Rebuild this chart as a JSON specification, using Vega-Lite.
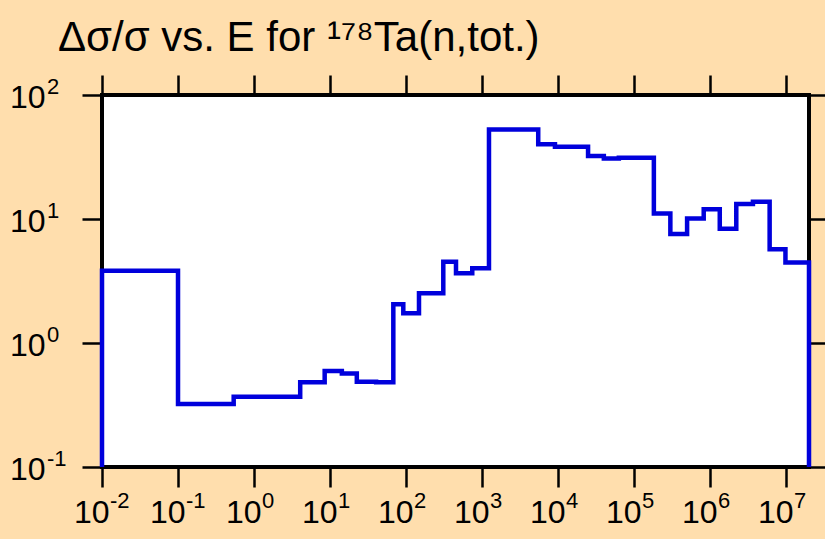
{
  "$schema": "https://vega.github.io/schema/vega-lite/v6.json",
  "width": 707,
  "height": 372,
  "autosize": "none",
  "padding": {"left": 102, "top": 95, "right": 16, "bottom": 72},
  "background": "#FFDEAD",
  "config": {
    "font": "Liberation Sans",
    "view": {"fill": "white", "stroke": "black", "strokeWidth": 4}
  },
  "title": {
    "text": "Δσ/σ vs. E for ¹⁷⁸Ta(n,tot.)",
    "anchor": "start",
    "frame": "group",
    "font": "Liberation Sans",
    "fontSize": 42,
    "fontWeight": "normal",
    "color": "black",
    "baseline": "alphabetic",
    "dx": -44,
    "offset": -19
  },
  "datasets": {
    "steps": [
      {"i": 0, "E": 0.01, "v": 0.1},
      {"i": 1, "E": 0.01, "v": 3.83},
      {"i": 2, "E": 0.1, "v": 0.322},
      {"i": 3, "E": 0.54, "v": 0.369},
      {"i": 4, "E": 4.05, "v": 0.482},
      {"i": 5, "E": 8.5, "v": 0.594},
      {"i": 6, "E": 14.3, "v": 0.567},
      {"i": 7, "E": 22.5, "v": 0.488},
      {"i": 8, "E": 40.4, "v": 0.482},
      {"i": 9, "E": 68, "v": 2.05},
      {"i": 10, "E": 92, "v": 1.74},
      {"i": 11, "E": 148, "v": 2.52},
      {"i": 12, "E": 309, "v": 4.53},
      {"i": 13, "E": 454, "v": 3.65},
      {"i": 14, "E": 743, "v": 4.0},
      {"i": 15, "E": 1233, "v": 52.8},
      {"i": 16, "E": 5480, "v": 40.0},
      {"i": 17, "E": 9100, "v": 38.3},
      {"i": 18, "E": 24800, "v": 32.2},
      {"i": 19, "E": 40000, "v": 30.8},
      {"i": 20, "E": 63000, "v": 31.2},
      {"i": 21, "E": 182000, "v": 11.1},
      {"i": 22, "E": 300000, "v": 7.57},
      {"i": 23, "E": 498000, "v": 10.1},
      {"i": 24, "E": 824000, "v": 12.0},
      {"i": 25, "E": 1340000, "v": 8.36},
      {"i": 26, "E": 2210000, "v": 13.2},
      {"i": 27, "E": 3660000, "v": 13.8},
      {"i": 28, "E": 6070000, "v": 5.7},
      {"i": 29, "E": 9800000, "v": 4.45},
      {"i": 30, "E": 20000000, "v": 4.45},
      {"i": 31, "E": 20000000, "v": 0.1}
    ],
    "xticks": [
      {"E": 0.01, "e": "-2"},
      {"E": 0.1, "e": "-1"},
      {"E": 1, "e": "0"},
      {"E": 10, "e": "1"},
      {"E": 100, "e": "2"},
      {"E": 1000, "e": "3"},
      {"E": 10000, "e": "4"},
      {"E": 100000, "e": "5"},
      {"E": 1000000, "e": "6"},
      {"E": 10000000, "e": "7"}
    ],
    "yticks": [
      {"v": 100, "e": "2"},
      {"v": 10, "e": "1"},
      {"v": 1, "e": "0"},
      {"v": 0.1, "e": "-1"}
    ]
  },
  "layer": [
    {
      "data": {"name": "steps"},
      "mark": {"type": "line", "interpolate": "step-after", "color": "#0000DC", "strokeWidth": 4.5, "strokeCap": "butt", "strokeJoin": "miter"},
      "encoding": {
        "x": {
          "field": "E", "type": "quantitative",
          "scale": {"type": "log", "domain": [0.01, 20000000], "nice": false},
          "axis": {
            "orient": "bottom", "title": null, "grid": false, "domain": false,
            "values": [0.01, 0.1, 1, 10, 100, 1000, 10000, 100000, 1000000, 10000000],
            "labelExpr": "'10'", "labelAlign": "right", "labelBaseline": "alphabetic",
            "labelPadding": 35, "labelOffset": 7, "labelFontSize": 32, "labelColor": "black", "labelFont": "Liberation Sans",
            "labelOverlap": false, "labelFlush": false, "labelBound": false,
            "tickSize": 20, "tickWidth": 2.5, "tickColor": "black"
          }
        },
        "y": {
          "field": "v", "type": "quantitative",
          "scale": {"type": "log", "domain": [0.1, 100], "nice": false},
          "axis": {
            "orient": "left", "title": null, "grid": false, "domain": false,
            "values": [0.1, 1, 10, 100],
            "labelExpr": "'10'", "labelAlign": "right", "labelBaseline": "alphabetic",
            "labelPadding": 37, "labelOffset": 12, "labelFontSize": 32, "labelColor": "black", "labelFont": "Liberation Sans",
            "labelOverlap": false, "labelFlush": false, "labelBound": false,
            "tickSize": 20, "tickWidth": 2.5, "tickColor": "black"
          }
        },
        "order": {"field": "i", "type": "quantitative"}
      }
    },
    {
      "data": {"name": "xticks"},
      "mark": {"type": "text", "align": "left", "baseline": "alphabetic", "fontSize": 22, "dx": 8, "dy": 41, "color": "black", "font": "Liberation Sans"},
      "encoding": {
        "x": {
          "field": "E", "type": "quantitative",
          "axis": {
            "orient": "top", "title": null, "grid": false, "domain": false, "labels": false,
            "values": [0.01, 0.1, 1, 10, 100, 1000, 10000, 100000, 1000000, 10000000],
            "tickSize": 20, "tickWidth": 2.5, "tickColor": "black"
          }
        },
        "y": {"datum": 0.1, "type": "quantitative", "axis": null},
        "text": {"field": "e"}
      }
    },
    {
      "data": {"name": "yticks"},
      "mark": {"type": "text", "align": "left", "baseline": "alphabetic", "fontSize": 22, "dx": -55, "dy": -1, "color": "black", "font": "Liberation Sans"},
      "encoding": {
        "x": {"datum": 0.01, "type": "quantitative", "axis": null},
        "y": {
          "field": "v", "type": "quantitative",
          "axis": {
            "orient": "right", "title": null, "grid": false, "domain": false, "labels": false,
            "values": [0.1, 1, 10, 100],
            "tickSize": 20, "tickWidth": 2.5, "tickColor": "black"
          }
        },
        "text": {"field": "e"}
      }
    }
  ],
  "resolve": {"axis": {"x": "independent", "y": "independent"}}
}
